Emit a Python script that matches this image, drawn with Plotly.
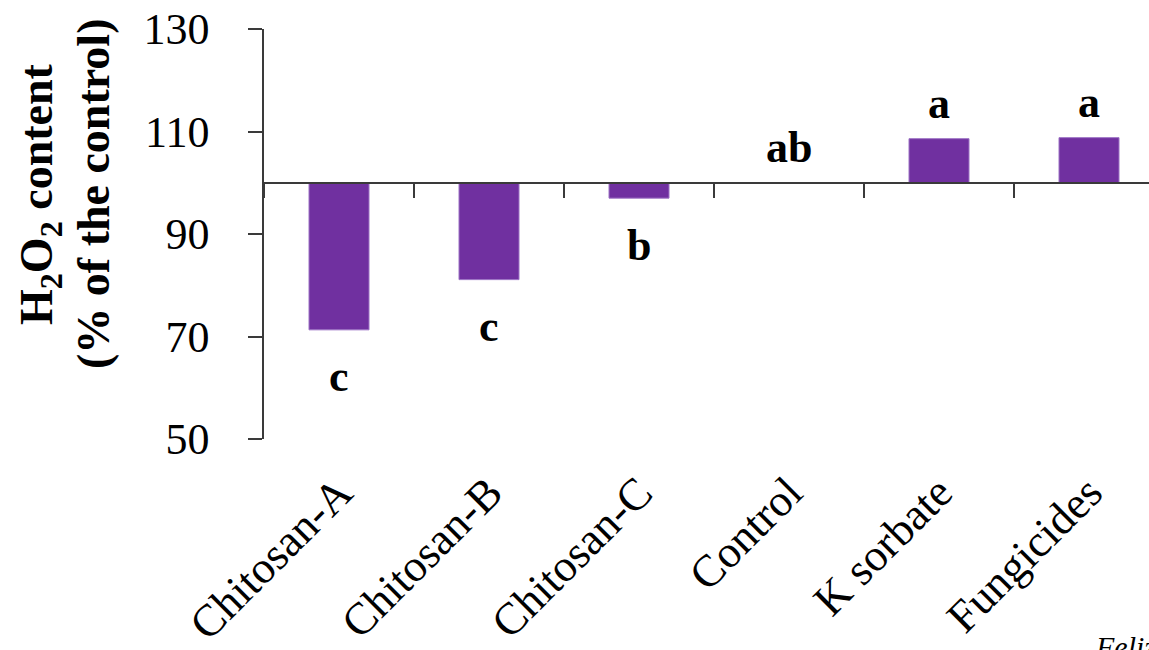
import plotly.graph_objects as go

categories = ["Chitosan-A", "Chitosan-B", "Chitosan-C", "Control", "K sorbate", "Fungicides"]
h2o2_values = [71.3, 81.1, 97.0, 100.0, 108.6, 108.8]
letters = ["c", "c", "b", "ab", "a", "a"]
y_ticks = [50, 70, 90, 110, 130]
baseline = 100

FONT = "Liberation Serif, Times New Roman, serif"
BAR_COLOR = "#7030A0"
AXIS_COLOR = "#3a3a3a"

W, H = 1149, 650
L, R, T, B = 264, 0, 29, 211
plot_w = W - L - R
plot_h = H - T - B

fig = go.Figure()

fig.add_trace(go.Bar(
    x=categories,
    y=[v - baseline for v in h2o2_values],
    base=baseline,
    width=0.4,
    marker=dict(color=BAR_COLOR, line=dict(color="#9c72c4", width=1)),
    hoverinfo="skip",
    showlegend=False,
))

# invisible trace to carry the baseline axis (y = 100)
fig.add_trace(go.Scatter(
    x=categories, y=[baseline] * len(categories), xaxis="x2", yaxis="y",
    mode="markers", marker=dict(opacity=0), hoverinfo="skip", showlegend=False,
))

for cat, v, lab in zip(categories, h2o2_values, letters):
    shift = -47 if v < baseline else 35
    fig.add_annotation(
        x=cat, y=v, xref="x", yref="y", text=f"<b>{lab}</b>",
        showarrow=False, yanchor="middle", xanchor="center", yshift=shift,
        font=dict(family=FONT, size=44, color="black"),
    )

# y-axis title (two lines)
title_y = (H - B - 194) / plot_h
fig.add_annotation(
    x=0, y=title_y, xref="paper", yref="paper", xshift=40 - L,
    text="<b>H<sub>2</sub>O<sub>2</sub> content</b>", textangle=-90,
    showarrow=False, xanchor="center", yanchor="middle",
    font=dict(family=FONT, size=46, color="black"),
)
fig.add_annotation(
    x=0, y=title_y, xref="paper", yref="paper", xshift=93 - L,
    text="<b>(% of the control)</b>", textangle=-90,
    showarrow=False, xanchor="center", yanchor="middle",
    font=dict(family=FONT, size=46, color="black"),
)

fig.add_annotation(
    x=0, y=0, xref="paper", yref="paper", xshift=1093 - L, yshift=-(628 - (H - B)),
    text="<i>Feliziani et al.</i>", showarrow=False, xanchor="left", yanchor="top",
    font=dict(family=FONT, size=30, color="black"),
)

fig.update_layout(
    width=W, height=H,
    margin=dict(l=L, r=R, t=T, b=B, pad=0, autoexpand=False),
    paper_bgcolor="white", plot_bgcolor="white",
    font=dict(family=FONT, color="black"),
    bargap=0.6,
    xaxis=dict(
        type="category", categoryorder="array", categoryarray=categories,
        range=[-0.5, 5.4], showline=False, ticks="", showgrid=False, zeroline=False,
        tickangle=-45, tickfont=dict(family=FONT, size=45, color="black"),
        ticklabelstandoff=17, automargin=False,
    ),
    xaxis2=dict(
        type="category", categoryorder="array", categoryarray=categories,
        overlaying="x", anchor="free", position=(baseline - 50) / 80,
        range=[-0.5, 5.4], showline=True, linecolor=AXIS_COLOR, linewidth=1.5,
        ticks="outside", ticklen=14, tickwidth=1.5, tickcolor=AXIS_COLOR,
        tickson="boundaries", showticklabels=False, showgrid=False, zeroline=False,
        automargin=False,
    ),
    yaxis=dict(
        range=[50, 130], tickvals=y_ticks, showgrid=False, zeroline=False,
        showline=True, linecolor=AXIS_COLOR, linewidth=1.5,
        ticks="outside", ticklen=14, tickwidth=1.5, tickcolor=AXIS_COLOR,
        tickfont=dict(family=FONT, size=44, color="black"),
        ticklabelstandoff=30, automargin=False,
    ),
)

fig.write_html("out.html")
